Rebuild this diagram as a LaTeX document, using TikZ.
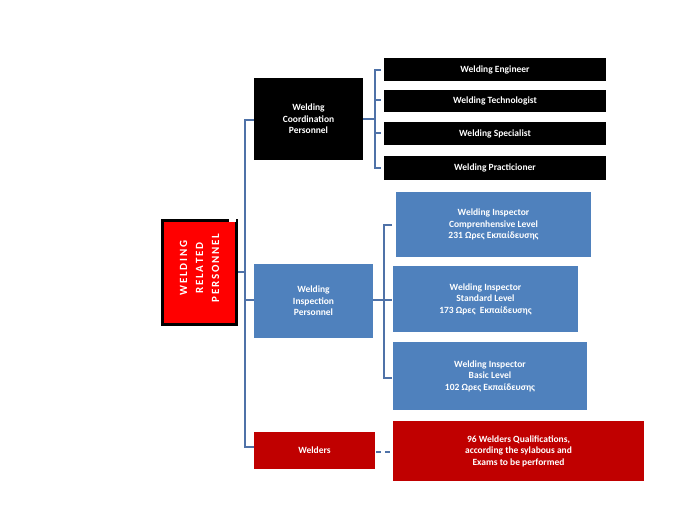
\documentclass[tikz,border=0pt]{standalone}
\usepackage{fontspec}
\setmainfont{Carlito}
\begin{document}
\begin{tikzpicture}[x=1pt,y=-1pt,
  bx/.style={draw=none,inner sep=0pt,align=center,text=white,font=\bfseries\fontsize{9.5}{11.5}\selectfont},
  br/.style={draw={rgb,255:red,79;green,114;blue,168},line width=2.2pt}]
\useasboundingbox (0,0) rectangle (674,510);
\definecolor{blu}{RGB}{79,129,189}
\definecolor{dred}{RGB}{192,0,0}
% root
\fill[black] (161,219) rectangle (238,326);
\fill[red] (164,222) rectangle (235,323);
\fill[white] (229,219) rectangle (236,222);
\begin{scope}
\clip (164,222) rectangle (235,323);
\node[bx,rotate=90,font=\bfseries\fontsize{11}{16}\selectfont] (root) at (199.5,268) {W\,E\,L\,D\,I\,N\,G\\R\,E\,L\,A\,T\,E\,D\\P\,E\,R\,S\,O\,N\,N\,E\,L};
\end{scope}
\coordinate (rootR) at (238,272);
% level 1
\fill[black] (254,78) rectangle (363,160); \node[bx] (coord) at (308.5,119) {Welding\\Coordination\\Personnel};
\fill[blu] (254,264) rectangle (373,338); \node[bx] (insp) at (313.5,301) {Welding\\Inspection\\ Personnel};
\fill[dred] (254,432) rectangle (375,469); \node[bx] (weld) at (314.5,450.5) {Welders};
% main bracket
\draw[br] (rootR) -- (245,272);
\draw[br] (254,120) -- (245,120) -- (245,447) -- (254,447);
\draw[br] (245,300) -- (254,300);
% coordination children
\foreach \a/\b/\t in {58/81/Welding Engineer,90/112/Welding Technologist,122/145/Welding Specialist,156/180/Welding Practicioner}
 {\fill[black] (384,\a) rectangle (606,\b); \node[bx] at (495,{(\a+\b)/2}) {\t};}
\draw[br] (363,119) -- (375,119);
\draw[br] (381,70) -- (375,70) -- (375,168) -- (381,168);
\draw[br] (375,100) -- (381,100); \draw[br] (375,133) -- (381,133);
% inspection children
\fill[blu] (396,192) rectangle (591,257); \node[bx] (i1) at (493.5,224.5) {Welding Inspector\\Comprenhensive Level\\231 Ωρες Εκπαίδευσης};
\fill[blu] (393,266) rectangle (578,332); \node[bx] (i2) at (485.5,299) {Welding Inspector\\Standard Level\\173 Ωρες ~Εκπαίδευσης};
\fill[blu] (393,342) rectangle (587,410); \node[bx] (i3) at (490,376) {Welding Inspector\\Basic Level\\102 Ωρες Εκπαίδευσης};
\draw[br] (373,300) -- (384,300);
\draw[br] (392,225) -- (384,225) -- (384,378) -- (392,378);
\draw[br] (384,300) -- (392,300);
% welders child
\fill[dred] (393,421) rectangle (644,481); \node[bx] (wq) at (518.5,451) {96 Welders Qualifications,\\according the sylabous and\\Exams to be performed};
\draw[br,dash pattern=on 5pt off 4pt] (376,452) -- (393,452);
\end{tikzpicture}
\end{document}
